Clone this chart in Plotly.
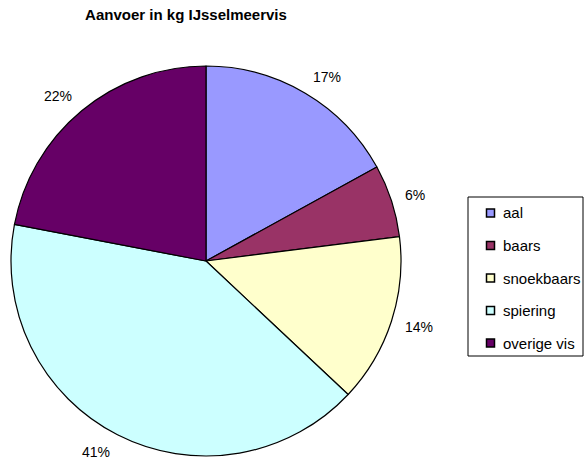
import math
import plotly.graph_objects as go

labels = ["aal", "baars", "snoekbaars", "spiering", "overige vis"]
values = [17, 6, 14, 41, 22]
colors = ["#9999FF", "#993366", "#FFFFCC", "#CCFFFF", "#660066"]

W, H = 584, 463
FONT = "Liberation Sans, Arial, sans-serif"

# pie geometry (pixels)
CX, CY, R = 206, 261, 195
LABEL_DIST = R + 12
LABEL_HALF_H = 7

fig = go.Figure(go.Pie(
    labels=labels,
    values=values,
    sort=False,
    direction="clockwise",
    rotation=0,
    marker=dict(colors=colors, line=dict(color="black", width=1.2)),
    textinfo="none",
    domain=dict(x=[(CX - R) / W, (CX + R) / W],
                y=[1 - (CY + R) / H, 1 - (CY - R) / H]),
    showlegend=False,
    hoverinfo="skip",
))

# percentage labels outside slices, anchored at a point beyond the rim
total = sum(values)
annotations = []
cum = 0.0
for v in values:
    mid = (cum + v / 2) / total * 2 * math.pi
    cum += v
    s, c = math.sin(mid), math.cos(mid)
    px = CX + LABEL_DIST * s
    py = CY - LABEL_DIST * c - LABEL_HALF_H * c
    annotations.append(dict(
        x=px / W, y=1 - py / H, xref="paper", yref="paper",
        text=f"{round(v / total * 100)}%", showarrow=False,
        xanchor="left" if s >= 0 else "right", yanchor="middle",
        font=dict(family=FONT, size=14, color="black"),
    ))

# legend drawn as a box with swatches
LX0, LY0, LX1, LY1 = 468, 197, 583, 356
shapes = [dict(type="rect", xref="paper", yref="paper",
               x0=LX0 / W, x1=LX1 / W, y0=1 - LY1 / H, y1=1 - LY0 / H,
               line=dict(color="black", width=1), fillcolor="white", layer="below")]
first_y, step = 213, 32.5
for i, (lab, col) in enumerate(zip(labels, colors)):
    yc = first_y + i * step
    shapes.append(dict(type="rect", xref="paper", yref="paper",
                       x0=486.5 / W, x1=494.5 / W,
                       y0=1 - (yc + 4) / H, y1=1 - (yc - 4) / H,
                       line=dict(color="black", width=1.5), fillcolor=col))
    annotations.append(dict(
        x=501 / W, y=1 - yc / H, xref="paper", yref="paper",
        text=lab, showarrow=False, xanchor="left", yanchor="middle",
        font=dict(family=FONT, size=15, color="black"),
    ))

fig.update_layout(
    width=W, height=H,
    margin=dict(l=0, r=0, t=0, b=0, autoexpand=False),
    paper_bgcolor="white",
    plot_bgcolor="white",
    font=dict(family=FONT, size=14, color="black"),
    title=dict(
        text="<b>Aanvoer in kg IJsselmeervis</b>",
        x=186 / W, xanchor="center",
        y=1 - 15 / H, yanchor="middle",
        font=dict(size=15, family=FONT, color="black"),
    ),
    annotations=annotations,
    shapes=shapes,
)

fig.write_html(
    "out.html",
    config={"displayModeBar": False, "staticPlot": True},
    post_script="document.body.style.margin='0';document.body.style.overflow='hidden';",
)
